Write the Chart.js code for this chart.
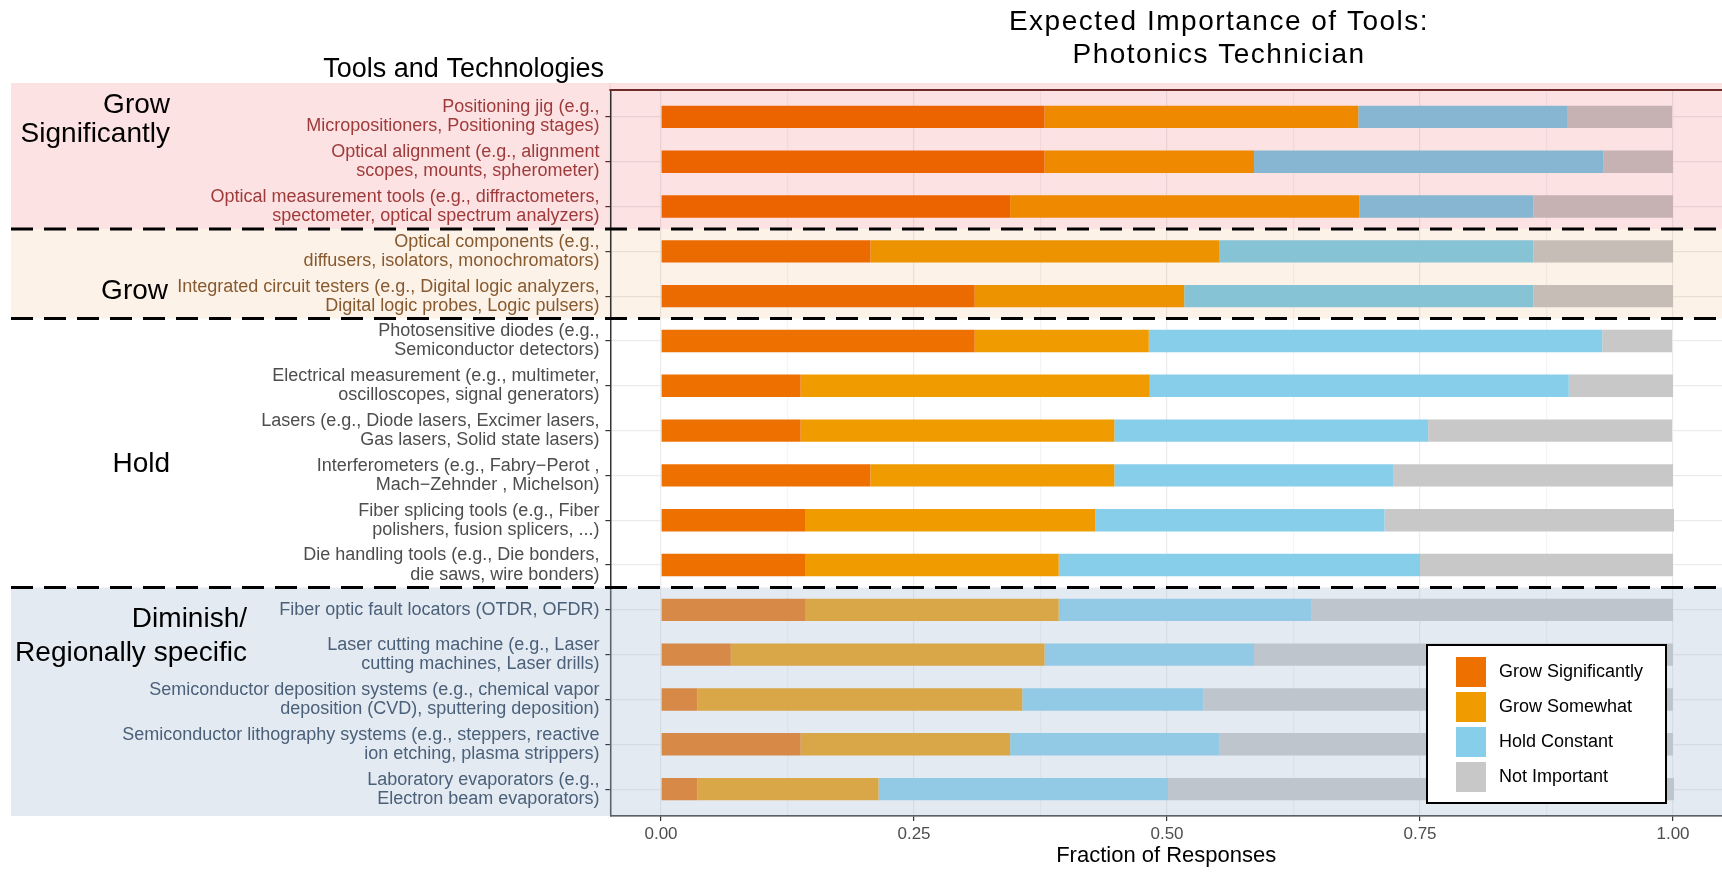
<!DOCTYPE html>
<html>
<head>
<meta charset="utf-8">
<title>Expected Importance of Tools: Photonics Technician</title>
<script src="https://cdn.jsdelivr.net/npm/chart.js"></script>
<style>
  html, body { margin: 0; padding: 0; background: #fff; overflow: hidden; }
  #wrap { width: 1722px; height: 872px; position: relative; }
</style>
</head>
<body>
<div id="wrap"><canvas id="myChart"></canvas></div>
<script>
// tools, top to bottom
const tools = [
  ["Positioning jig (e.g.,", "Micropositioners, Positioning stages)"],
  ["Optical alignment (e.g., alignment", "scopes, mounts, spherometer)"],
  ["Optical measurement tools (e.g., diffractometers,", "spectometer, optical spectrum analyzers)"],
  ["Optical components (e.g.,", "diffusers, isolators, monochromators)"],
  ["Integrated circuit testers (e.g., Digital logic analyzers,", "Digital logic probes, Logic pulsers)"],
  ["Photosensitive diodes (e.g.,", "Semiconductor detectors)"],
  ["Electrical measurement (e.g., multimeter,", "oscilloscopes, signal generators)"],
  ["Lasers (e.g., Diode lasers, Excimer lasers,", "Gas lasers, Solid state lasers)"],
  ["Interferometers (e.g., Fabry\u2212Perot ,", "Mach\u2212Zehnder , Michelson)"],
  ["Fiber splicing tools (e.g., Fiber", "polishers, fusion splicers, ...)"],
  ["Die handling tools (e.g., Die bonders,", "die saws, wire bonders)"],
  "Fiber optic fault locators (OTDR, OFDR)",
  ["Laser cutting machine (e.g., Laser", "cutting machines, Laser drills)"],
  ["Semiconductor deposition systems (e.g., chemical vapor", "deposition (CVD), sputtering deposition)"],
  ["Semiconductor lithography systems (e.g., steppers, reactive", "ion etching, plasma strippers)"],
  ["Laboratory evaporators (e.g.,", "Electron beam evaporators)"]
];
// which outlook group each tool belongs to
const toolGroup = [0,0,0, 1,1, 2,2,2,2,2,2, 3,3,3,3,3];
const groupNames = [["Grow", "Significantly"], ["Grow"], ["Hold"], ["Diminish/", "Regionally specific"]];

// fraction of responses
const growSignificantly = [0.379, 0.379, 0.345, 0.207, 0.310, 0.310, 0.138, 0.138, 0.207, 0.143, 0.143, 0.143, 0.069, 0.036, 0.138, 0.036];
const growSomewhat      = [0.310, 0.207, 0.345, 0.345, 0.207, 0.172, 0.345, 0.310, 0.241, 0.286, 0.250, 0.250, 0.310, 0.321, 0.207, 0.179];
const holdConstant      = [0.207, 0.345, 0.172, 0.310, 0.345, 0.448, 0.414, 0.310, 0.276, 0.286, 0.357, 0.250, 0.207, 0.179, 0.207, 0.286];
const notImportant      = [0.103, 0.069, 0.138, 0.138, 0.138, 0.069, 0.103, 0.241, 0.276, 0.286, 0.250, 0.357, 0.414, 0.464, 0.448, 0.500];

const xTickValues = [0, 0.125, 0.25, 0.375, 0.5, 0.625, 0.75, 0.875, 1];

const FONT = '"Liberation Sans", Arial, Helvetica, sans-serif';
Chart.defaults.font.family = FONT;

const seriesColors = ['#EE7100', '#F09B00', '#87CEEB', '#C8C8C8'];
const groupText = ['#9E3A3A', '#87592E', '#4D4D4D', '#4B6079'];
const groupFill = ['#FDE2E4', '#FDF2E8', null, '#E3EAF2'];
const groupTick = ['#5A2424', '#4A3520', '#333333', '#2E3D50'];

function rows(vals) {
  return vals.map((v, i) => ({x: v, y: i}));
}
function isMajor(v) {
  return Math.abs(v * 4 - Math.round(v * 4)) < 1e-9;
}

// band extents in pixels, derived from the group boundaries on the y scale
function bandList(chart) {
  const ys = chart.scales.y, area = chart.chartArea;
  const out = [];
  let start = 0;
  for (let i = 1; i <= toolGroup.length; i++) {
    if (i === toolGroup.length || toolGroup[i] !== toolGroup[start]) {
      const top = start === 0 ? area.top - 7 : ys.getPixelForValue(start - 0.5);
      const bottom = i === toolGroup.length ? area.bottom : ys.getPixelForValue(i - 0.5);
      out.push({g: toolGroup[start], top: top, bottom: bottom});
      start = i;
    }
  }
  return out;
}

const decor = {
  id: 'decor',
  beforeDraw(chart) {
    const c = chart.ctx, area = chart.chartArea;
    c.save();
    c.fillStyle = '#fff';
    c.fillRect(0, 0, chart.width, chart.height);
    bandList(chart).forEach(b => {
      if (!groupFill[b.g]) return;
      c.fillStyle = groupFill[b.g];
      c.fillRect(11, b.top, area.left - 11, b.bottom - b.top);
    });
    c.restore();
  },
  afterDatasetsDraw(chart) {
    const c = chart.ctx, area = chart.chartArea;
    const bands = bandList(chart);
    c.save();
    bands.forEach(b => {
      if (b.g === 0 || b.g === 1) {
        c.globalCompositeOperation = 'multiply';
        c.fillStyle = groupFill[b.g];
      } else if (b.g === 3) {
        c.globalCompositeOperation = 'source-over';
        c.fillStyle = 'rgba(170,191,215,0.33)';
      } else return;
      c.fillRect(area.left - 1, b.top, chart.width - area.left + 1, b.bottom - b.top);
    });
    c.globalCompositeOperation = 'source-over';
    // panel top border
    c.strokeStyle = '#6E2B2B';
    c.lineWidth = 2;
    c.beginPath();
    c.moveTo(area.left - 1, area.top);
    c.lineTo(chart.width, area.top);
    c.stroke();
    // dashed separators
    c.strokeStyle = '#000';
    c.lineWidth = 3;
    c.setLineDash([22, 11]);
    bands.slice(1).forEach(b => {
      c.beginPath();
      c.moveTo(11, b.top);
      c.lineTo(chart.width, b.top);
      c.stroke();
    });
    c.restore();
  },
  afterDraw(chart) {
    const c = chart.ctx, ys = chart.scales.y;
    c.save();
    // title
    c.fillStyle = '#000';
    c.textAlign = 'center';
    c.textBaseline = 'middle';
    c.font = '28px ' + FONT;
    c.letterSpacing = '1.5px';
    c.fillText('Expected Importance of Tools:', 1219, 22);
    c.fillText('Photonics Technician', 1219, 55);
    c.letterSpacing = '0px';
    c.textAlign = 'right';
    c.font = '27px ' + FONT;
    c.fillText('Tools and Technologies', 604, 70);
    // group names
    c.font = '28px ' + FONT;
    const at = [[0.06, 170, 29], [3.9, 168, 0], [7.75, 170, 0], [11.6, 247, 34]];
    groupNames.forEach((lines, g) => {
      const y0 = ys.getPixelForValue(at[g][0]) - (lines.length - 1) * at[g][2] / 2;
      lines.forEach((t, k) => c.fillText(t, at[g][1], y0 + k * at[g][2]));
    });
    // legend
    const bx = 1427, by = 645, bw = 239, bh = 158;
    c.fillStyle = '#fff';
    c.fillRect(bx, by, bw, bh);
    c.strokeStyle = '#000';
    c.lineWidth = 2;
    c.strokeRect(bx, by, bw, bh);
    c.textAlign = 'left';
    c.font = '18px ' + FONT;
    chart.data.datasets.forEach((ds, i) => {
      c.fillStyle = ds.backgroundColor;
      c.fillRect(bx + 29, by + 12 + i * 35, 30, 30);
      c.fillStyle = '#000';
      c.fillText(ds.label, bx + 72, by + 27 + i * 35);
    });
    c.restore();
  }
};

const ctx = document.getElementById('myChart').getContext('2d');
const chart = new Chart(ctx, {
  type: 'bar',
  data: {
    datasets: [
      {label: 'Grow Significantly', data: rows(growSignificantly), backgroundColor: seriesColors[0]},
      {label: 'Grow Somewhat', data: rows(growSomewhat), backgroundColor: seriesColors[1]},
      {label: 'Hold Constant', data: rows(holdConstant), backgroundColor: seriesColors[2]},
      {label: 'Not Important', data: rows(notImportant), backgroundColor: seriesColors[3]}
    ].map(d => Object.assign(d, {stack: 'all', barPercentage: 0.5, categoryPercentage: 1, borderWidth: 0}))
  },
  options: {
    indexAxis: 'y',
    responsive: true,
    maintainAspectRatio: false,
    animation: false,
    layout: {padding: {top: 90, left: 0, right: 0, bottom: 0}},
    plugins: {legend: {display: false}, tooltip: {enabled: false}},
    scales: {
      x: {
        type: 'linear',
        stacked: true,
        min: -0.05,
        max: 1.0484,
        afterBuildTicks: s => { s.ticks = xTickValues.map(v => ({value: v})); },
        afterFit: s => { s.height = 56; },
        ticks: {
          autoSkip: false, maxRotation: 0, padding: 3,
          color: '#4D4D4D', font: {size: 17},
          callback: v => isMajor(v) ? v.toFixed(2) : ''
        },
        grid: {
          color: c => isMajor(c.tick.value) ? '#EBEBEB' : '#F4F4F4',
          tickColor: c => isMajor(c.tick.value) ? '#333' : 'rgba(0,0,0,0)',
          tickLength: 5, lineWidth: 1.2
        },
        border: {display: true, color: '#333', width: 1.5},
        title: {display: true, text: 'Fraction of Responses', color: '#000', font: {size: 22}, padding: {top: 0, bottom: 3}}
      },
      y: {
        type: 'linear',
        reverse: true,
        offset: false,
        min: -0.6,
        max: 15.6,
        afterBuildTicks: s => { s.ticks = tools.map((t, i) => ({value: i})); },
        afterFit: s => { s.width = 610.4; },
        ticks: {
          autoSkip: false, padding: 6,
          font: {size: 18, lineHeight: 1.06},
          color: c => groupText[toolGroup[c.index]],
          callback: (v, i) => tools[i]
        },
        grid: {
          offset: false,
          color: '#EBEBEB', lineWidth: 1.2, tickLength: 5,
          tickColor: c => groupTick[toolGroup[c.index]]
        },
        border: {display: true, color: '#333', width: 1.5}
      }
    }
  },
  plugins: [decor]
});
</script>
</body>
</html>
